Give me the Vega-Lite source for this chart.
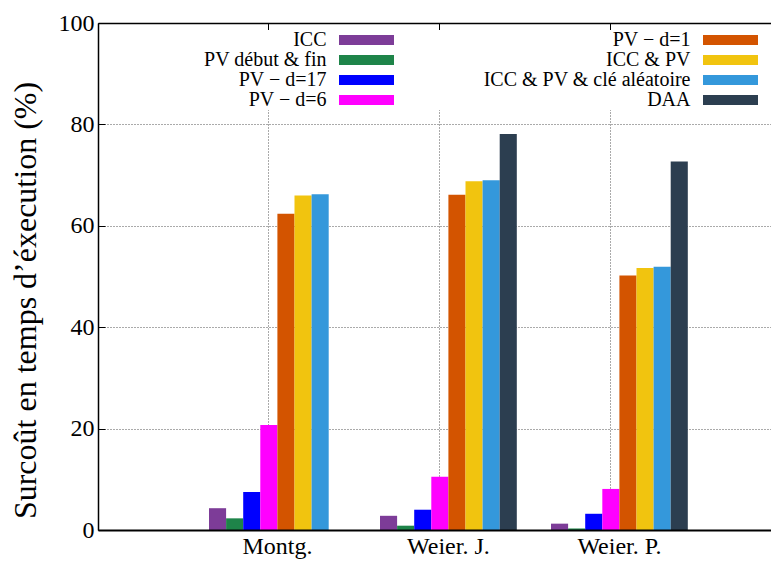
{
  "$schema": "https://vega.github.io/schema/vega-lite/v6.json",
  "autosize": "none",
  "width": 673,
  "height": 507,
  "padding": {"left": 98, "top": 23, "right": 0, "bottom": 33},
  "background": "white",
  "data": {
    "values": [
      {"group": "Montg.", "series": "ICC", "value": 4.3},
      {"group": "Montg.", "series": "PV début & fin", "value": 2.3},
      {"group": "Montg.", "series": "PV − d=17", "value": 7.5},
      {"group": "Montg.", "series": "PV − d=6", "value": 20.7},
      {"group": "Montg.", "series": "PV − d=1", "value": 62.4},
      {"group": "Montg.", "series": "ICC & PV", "value": 66.0},
      {"group": "Montg.", "series": "ICC & PV & clé aléatoire", "value": 66.2},
      {"group": "Weier. J.", "series": "ICC", "value": 2.8},
      {"group": "Weier. J.", "series": "PV début & fin", "value": 0.85},
      {"group": "Weier. J.", "series": "PV − d=17", "value": 4.0},
      {"group": "Weier. J.", "series": "PV − d=6", "value": 10.5},
      {"group": "Weier. J.", "series": "PV − d=1", "value": 66.1},
      {"group": "Weier. J.", "series": "ICC & PV", "value": 68.8},
      {"group": "Weier. J.", "series": "ICC & PV & clé aléatoire", "value": 69.0},
      {"group": "Weier. J.", "series": "DAA", "value": 78.1},
      {"group": "Weier. P.", "series": "ICC", "value": 1.25},
      {"group": "Weier. P.", "series": "PV début & fin", "value": 0.3},
      {"group": "Weier. P.", "series": "PV − d=17", "value": 3.2},
      {"group": "Weier. P.", "series": "PV − d=6", "value": 8.1},
      {"group": "Weier. P.", "series": "PV − d=1", "value": 50.2},
      {"group": "Weier. P.", "series": "ICC & PV", "value": 51.7},
      {"group": "Weier. P.", "series": "ICC & PV & clé aléatoire", "value": 51.9},
      {"group": "Weier. P.", "series": "DAA", "value": 72.7}
    ]
  },
  "resolve": {"axis": {"x": "independent"}},
  "layer": [
    {
      "transform": [{"filter": {"field": "series", "oneOf": ["ICC", "PV début & fin", "PV − d=17", "PV − d=6"]}}],
      "mark": {"type": "bar", "strokeWidth": 0},
      "encoding": {
        "x": {
          "field": "group", "type": "nominal", "sort": ["Montg.", "Weier. J.", "Weier. P."],
          "scale": {"domain": ["Montg.", "Weier. J.", "Weier. P."], "paddingInner": 0.2, "paddingOuter": 0.5678, "align": 0.5716},
          "axis": {
            "orient": "bottom", "title": null, "labelAngle": 0, "labelFont": "Liberation Serif", "labelFontSize": 24,
            "labelColor": "black", "ticks": false, "labelPadding": 4, "domainColor": "black", "domainWidth": 2,
            "grid": false, "zindex": 1
          }
        },
        "xOffset": {
          "field": "series", "type": "nominal",
          "scale": {"domain": ["ICC", "PV début & fin", "PV − d=17", "PV − d=6", "PV − d=1", "ICC & PV", "ICC & PV & clé aléatoire", "DAA"], "paddingInner": 0, "paddingOuter": 0}
        },
        "y": {
          "field": "value", "type": "quantitative",
          "scale": {"domain": [0, 100], "nice": false},
          "axis": {
            "title": "Surcoût en temps d’éxecution (%)", "titleFont": "Liberation Serif", "titleFontSize": 32,
            "titleFontWeight": "normal", "titleColor": "black", "titleAngle": 270, "titleAlign": "center",
            "titleBaseline": "alphabetic", "titleX": -63, "titleY": 277,
            "values": [0, 20, 40, 60, 80, 100], "labelFont": "Liberation Serif", "labelFontSize": 24, "labelColor": "black",
            "tickSize": -7, "tickColor": "black", "tickWidth": 1, "labelPadding": 11,
            "domainColor": "black", "domainWidth": 1.5,
            "grid": true, "gridDash": [1, 2], "gridColor": "#555555", "gridWidth": 1
          }
        },
        "color": {
          "field": "series", "type": "nominal",
          "scale": {
            "domain": ["ICC", "PV début & fin", "PV − d=17", "PV − d=6", "PV − d=1", "ICC & PV", "ICC & PV & clé aléatoire", "DAA"],
            "range": ["#7D3C98", "#1E8449", "#0000FF", "#FF00FF", "#D35400", "#F1C40F", "#3498DB", "#2C3E50"]
          },
          "legend": {
            "orient": "none", "legendX": 103.5, "legendY": 7, "columns": 2, "direction": "vertical",
            "title": null,
            "symbolType": "M-5,-0.9L5,-0.9L5,0.9L-5,0.9Z", "symbolSize": 121, "symbolStrokeWidth": 0, "symbolOpacity": 1,
            "symbolOffset": 155, "labelOffset": -50, "labelAlign": "right", "labelBaseline": "middle",
            "labelFont": "Liberation Serif", "labelFontSize": 20, "labelColor": "black", "labelLimit": 400,
            "columnPadding": 88, "rowPadding": 0, "padding": 0, "fillColor": "white", "strokeColor": null
          }
        }
      }
    },
    {
      "transform": [{"filter": {"field": "series", "oneOf": ["PV − d=1", "ICC & PV", "ICC & PV & clé aléatoire", "DAA"]}}],
      "mark": {"type": "bar", "strokeWidth": 0},
      "encoding": {
        "x": {
          "field": "group", "type": "nominal", "sort": ["Montg.", "Weier. J.", "Weier. P."],
          "scale": {"domain": ["Montg.", "Weier. J.", "Weier. P."], "paddingInner": 0.2, "paddingOuter": 0.5678, "align": 0.5716},
          "axis": {
            "orient": "top", "title": null, "labels": false, "ticks": true, "tickSize": -7, "tickColor": "black", "tickWidth": 1,
            "domainColor": "black", "domainWidth": 1.5, "bandPosition": 0.4375,
            "grid": true, "gridDash": [1, 2], "gridColor": "#555555", "gridWidth": 1, "zindex": 0
          }
        },
        "xOffset": {
          "field": "series", "type": "nominal",
          "scale": {"domain": ["ICC", "PV début & fin", "PV − d=17", "PV − d=6", "PV − d=1", "ICC & PV", "ICC & PV & clé aléatoire", "DAA"], "paddingInner": 0, "paddingOuter": 0}
        },
        "y": {"field": "value", "type": "quantitative", "scale": {"domain": [0, 100], "nice": false}},
        "color": {
          "field": "series", "type": "nominal",
          "scale": {
            "domain": ["ICC", "PV début & fin", "PV − d=17", "PV − d=6", "PV − d=1", "ICC & PV", "ICC & PV & clé aléatoire", "DAA"],
            "range": ["#7D3C98", "#1E8449", "#0000FF", "#FF00FF", "#D35400", "#F1C40F", "#3498DB", "#2C3E50"]
          }
        }
      }
    }
  ],
  "config": {
    "font": "Liberation Serif",
    "view": {"stroke": null}
  }
}
